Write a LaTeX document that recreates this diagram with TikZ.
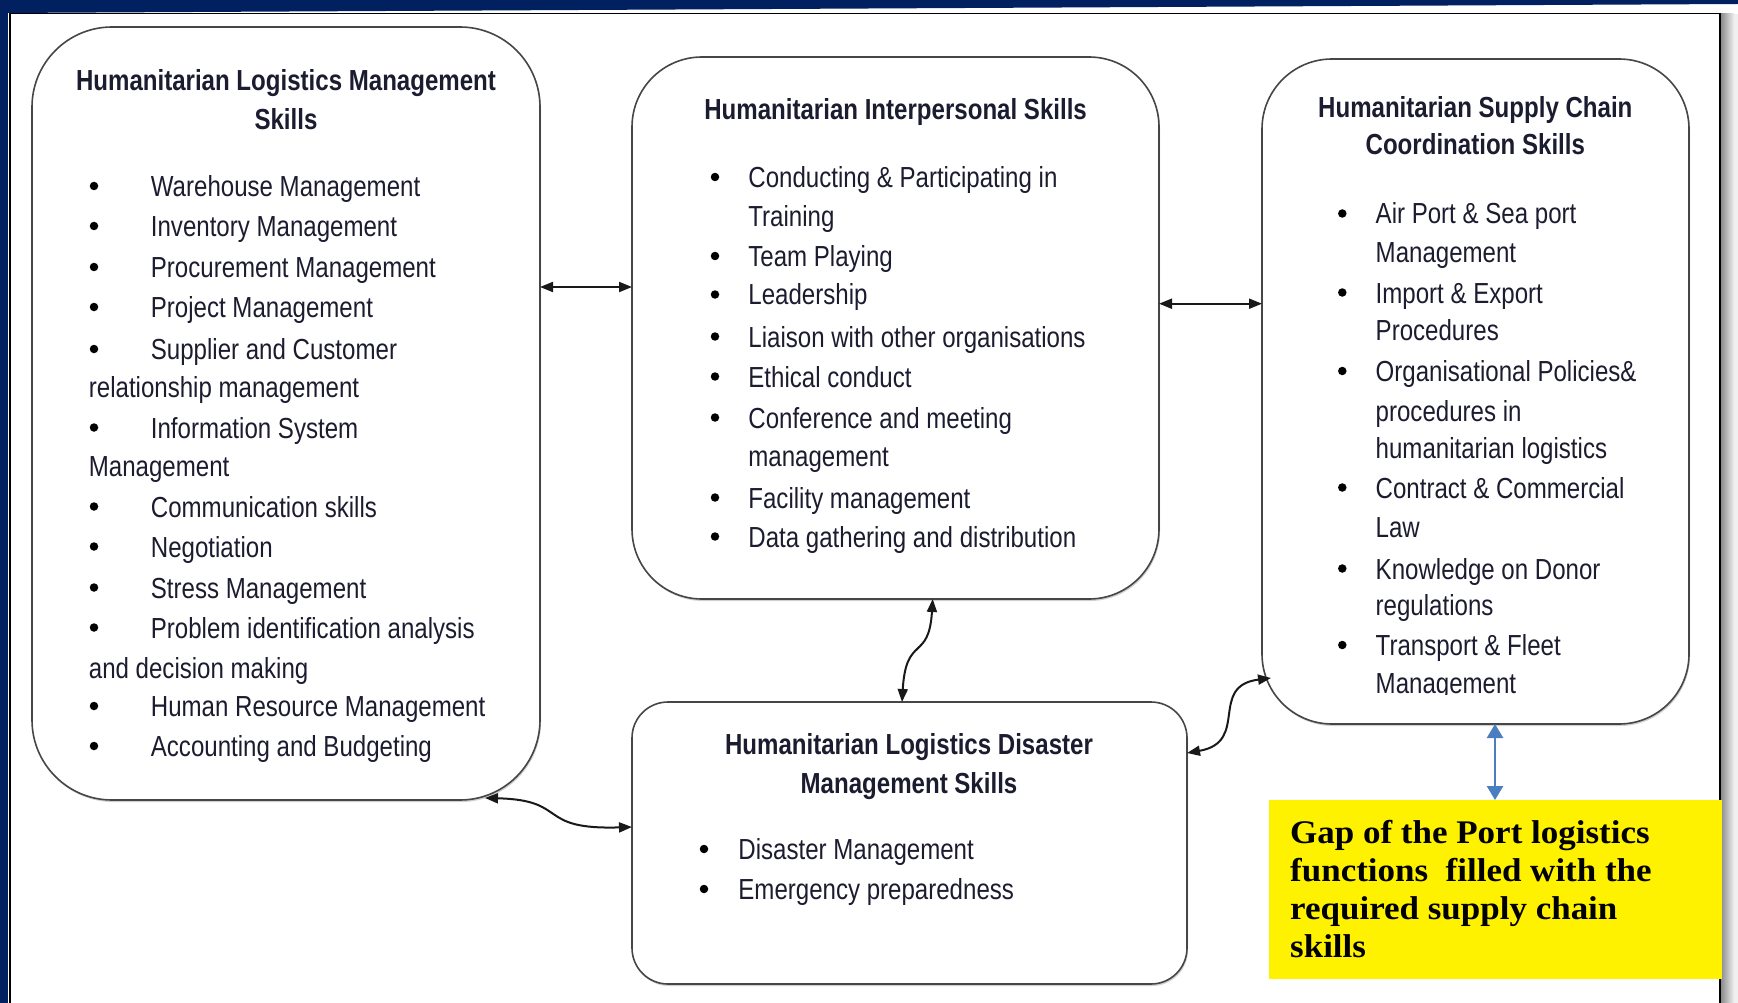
\documentclass[tikz,border=0pt]{standalone}
\usepackage{fontspec}
\usetikzlibrary{arrows.meta,calc,shadows}
\newfontfamily\arialn{Liberation Sans}[FakeStretch=0.83]
\newfontfamily\camb{Liberation Serif}[FakeStretch=1.06]
\definecolor{navy}{RGB}{0,32,96}
\definecolor{txtc}{RGB}{28,28,48}
\definecolor{boxc}{RGB}{70,70,70}
\definecolor{arrblue}{RGB}{74,126,190}
\newcommand\bodyf{\arialn\fontsize{29}{40}\selectfont}
\newcommand\gapf{\camb\bfseries\fontsize{33}{38}\selectfont}
\begin{document}
\begin{tikzpicture}[x=1pt,y=-1pt,
  box/.style={draw=boxc, fill=white, line width=1.6pt, rounded corners=#1, anchor=north west,
    inner sep=0pt, outer sep=0pt,
    drop shadow={shadow xshift=1pt, shadow yshift=-2pt, opacity=0.3, fill=black!60}},
  box/.default=70,
  ttl/.style={anchor=base, inner sep=0pt, font=\bodyf\bfseries, text=txtc},
  txt/.style={anchor=base west, inner sep=0pt, font=\bodyf, text=txtc},
  bul/.style={circle, fill=black, inner sep=0pt, minimum size=8.5pt, yshift=10.5pt},
  gap/.style={anchor=base west, inner sep=0pt, font=\gapf, text=black},
  conn/.style={{Triangle[length=13pt,width=10pt]}-{Triangle[length=13pt,width=10pt]}, line width=2pt, black!90},
  blarr/.style={{Triangle[length=14pt,width=16pt]}-{Triangle[length=14pt,width=16pt]}, line width=2.6pt, arrblue}]
\useasboundingbox (0,0) rectangle (1738,1003);
% background and frame
\fill[white] (0,0) rectangle (1738,1003);
\fill[left color=black!45, right color=black!6] (1721,14) rectangle (1734,1003);
\fill[black!6] (1734,14) rectangle (1738,1003);
\fill[navy] (0,0) -- (1738,0) -- (1738,4) -- (0,13) -- cycle;
\fill[navy] (0,0) rectangle (8,1003);
\draw[black, line width=1.3pt] (10,1010) -- (10,13.5) -- (1720,13.5) -- (1720,1010);

% boxes
\node[box=80, minimum width=508pt, minimum height=773pt] (b1) at (32,27) {};
\node[box=70, minimum width=527pt, minimum height=542pt] (b2) at (632,57) {};
\node[box=70, minimum width=427pt, minimum height=665pt] (b3) at (1262,59) {};
\node[box=36, minimum width=555pt, minimum height=282pt] (b4) at (632,702) {};
\node[fill=yellow, anchor=north west, inner sep=0pt, minimum width=453pt, minimum height=179pt] (yb) at (1269,800) {};

% box 1 text
\node[ttl] (t1a) at (286,91) {Humanitarian Logistics Management};
\node[ttl] (t1b) at (286,130) {Skills};
\foreach \y [count=\i] in {196.5,236.5,277.5,317.5,359.5,438,517,557,598,638,716.5,756.5}
  \node[bul] (p1\i) at (94,\y) {};
\node[txt] (l1a) at (150.7,196.5) {Warehouse Management};
\node[txt] (l1b) at (150.7,236.5) {Inventory Management};
\node[txt] (l1c) at (150.7,277.5) {Procurement Management};
\node[txt] (l1d) at (150.7,317.5) {Project Management};
\node[txt] (l1e) at (150.7,359.5) {Supplier and Customer};
\node[txt] (l1f) at (88.7,397) {relationship management};
\node[txt] (l1g) at (150.7,438) {Information System};
\node[txt] (l1h) at (88.7,476) {Management};
\node[txt] (l1i) at (150.7,517) {Communication skills};
\node[txt] (l1j) at (150.7,557) {Negotiation};
\node[txt] (l1k) at (150.7,598) {Stress Management};
\node[txt] (l1l) at (150.7,638) {Problem identification analysis};
\node[txt] (l1m) at (88.7,678) {and decision making};
\node[txt] (l1n) at (150.7,716.5) {Human Resource Management};
\node[txt] (l1o) at (150.7,756.5) {Accounting and Budgeting};

% box 2 text
\node[ttl] (t2a) at (895.6,120) {Humanitarian Interpersonal Skills};
\foreach \y [count=\i] in {187.5,266.5,305,347,387,428,508,547}
  \node[bul] (p2\i) at (715,\y) {};
\node[txt] (l2a) at (748.2,187.5) {Conducting \& Participating in};
\node[txt] (l2b) at (748.2,226.5) {Training};
\node[txt] (l2c) at (748.2,266.5) {Team Playing};
\node[txt] (l2d) at (748.2,305) {Leadership};
\node[txt] (l2e) at (748.2,347) {Liaison with other organisations};
\node[txt] (l2f) at (748.2,387) {Ethical conduct};
\node[txt] (l2g) at (748.2,428) {Conference and meeting};
\node[txt] (l2h) at (748.2,466) {management};
\node[txt] (l2i) at (748.2,508) {Facility management};
\node[txt] (l2j) at (748.2,547) {Data gathering and distribution};

% box 3 text
\node[ttl] (t3a) at (1475.3,118) {Humanitarian Supply Chain};
\node[ttl] (t3b) at (1475.3,154.5) {Coordination Skills};
\foreach \y [count=\i] in {224,303,381.5,498,579,655.5}
  \node[bul] (p3\i) at (1342.3,\y) {};
\node[txt] (l3a) at (1375.5,224) {Air Port \& Sea port};
\node[txt] (l3b) at (1375.5,262) {Management};
\node[txt] (l3c) at (1375.5,303) {Import \& Export};
\node[txt] (l3d) at (1375.5,340.5) {Procedures};
\node[txt] (l3e) at (1375.5,381.5) {Organisational Policies\&};
\node[txt] (l3f) at (1375.5,421.5) {procedures in};
\node[txt] (l3g) at (1375.5,458) {humanitarian logistics};
\node[txt] (l3h) at (1375.5,498) {Contract \& Commercial};
\node[txt] (l3i) at (1375.5,537) {Law};
\node[txt] (l3j) at (1375.5,579) {Knowledge on Donor};
\node[txt] (l3k) at (1375.5,615.5) {regulations};
\node[txt] (l3l) at (1375.5,655.5) {Transport \& Fleet};
\begin{scope}
  \clip (1300,660) rectangle (1680,694.5);
  \node[txt] (l3m) at (1375.5,693) {Management};
\end{scope}

% box 4 text
\node[ttl] (t4a) at (909,754) {Humanitarian Logistics Disaster};
\node[ttl] (t4b) at (909,793) {Management Skills};
\node[bul] (p41) at (704,859.5) {};
\node[bul] (p42) at (704,899.5) {};
\node[txt] (l4a) at (738.2,859.5) {Disaster Management};
\node[txt] (l4b) at (738.2,899.5) {Emergency preparedness};

% yellow text
\node[gap] (g1) at (1290,843) {Gap of the Port logistics};
\node[gap] (g2) at (1290,881) {functions\ \ filled with the};
\node[gap] (g3) at (1290,919) {required supply chain};
\node[gap] (g4) at (1290,957) {skills};

% connectors
\draw[conn] (b1.east |- 0,287) -- (b2.west |- 0,287);
\draw[conn] (b2.east |- 0,303.7) -- (b3.west |- 0,303.7);
\draw[conn] (b2.south -| 932.7,0) .. controls (929,662) and (906,634) .. (b4.north -| 902,0);
\coordinate (c14) at ($(b1.south east)+(-55,-2)$);
\draw[conn] (c14) .. controls (570,800) and (535,830) .. (b4.west |- 0,827);
\coordinate (c34) at ($(b3.south west)+(9,-46)$);
\draw[conn] (b4.east |- 0,753) .. controls (1250,742) and (1208,686) .. (c34);
\draw[blarr] (b3.south -| 1495,0) -- (yb.north -| 1495,0);
\end{tikzpicture}
\end{document}
